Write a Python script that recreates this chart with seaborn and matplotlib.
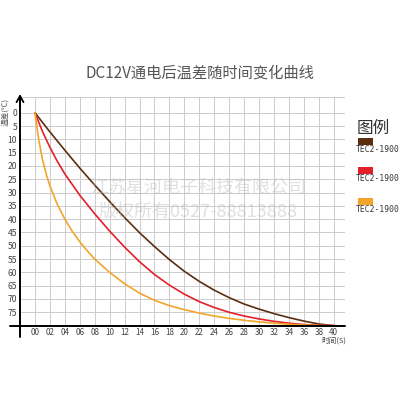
import matplotlib
matplotlib.use("Agg")
import matplotlib.pyplot as plt
import seaborn as sns
import pandas as pd

# ---- data ----
series_names = ["TEC2-1900 A", "TEC2-1900 B", "TEC2-1900 C"]
legend_labels = ["TEC2-1900", "TEC2-1900", "TEC2-1900"]
colors = ["#5c2e10", "#e3202a", "#f2a52a"]

brown_t = [0, 2, 4, 6, 8, 10, 12, 14, 16, 18, 20, 22, 24, 26, 28, 30, 32, 34, 36, 38, 40]
brown_v = [0, 7.2, 14.1, 20.8, 27.2, 33.4, 39.4, 45.1, 50.3, 55.2, 59.6, 63.4, 66.7, 69.5, 71.9, 73.8, 75.5, 77.0, 78.3, 79.4, 80]

red_t = [0, 1, 2, 3, 4, 6, 8, 10, 12, 14, 16, 18, 20, 22, 24, 26, 28, 30, 32, 34, 36, 38, 40]
red_v = [0, 7, 13, 18.3, 23, 31, 38, 44.5, 50.5, 56, 60.8, 64.8, 68.2, 71, 73.2, 75, 76.4, 77.5, 78.4, 79.1, 79.6, 79.9, 80]

yel_t = [0, 0.5, 1, 1.5, 2, 3, 4, 5, 6, 7, 8, 10, 12, 14, 16, 18, 20, 22, 24, 26, 28, 30, 32, 34, 36, 38, 40]
yel_v = [0, 10, 17.5, 23, 27.5, 34.5, 40, 44.6, 48.5, 51.9, 55, 60, 64.3, 67.8, 70.5, 72.5, 74, 75.3, 76.4, 77.3, 78, 78.6, 79.1, 79.5, 79.8, 80, 80]

x_ticks = list(range(0, 41, 2))
x_ticklabels = ["%02d" % t for t in x_ticks]
y_ticks = list(range(0, 80, 5))
y_ticklabels = [str(t) for t in y_ticks]

title = "DC12V通电后温差随时间变化曲线"
xlabel = "时间(S)"
ylabel = "温差(℃)"
legend_title = "图例"
watermark1 = "江苏星河电子科技有限公司"
watermark2 = "版权所有0527-88813888"

# ---- build table ----
df = pd.concat([
    pd.DataFrame({"t": brown_t, "v": brown_v, "s": series_names[0]}),
    pd.DataFrame({"t": red_t, "v": red_v, "s": series_names[1]}),
    pd.DataFrame({"t": yel_t, "v": yel_v, "s": series_names[2]}),
])

sns.set_style("white")
plt.rcParams["font.family"] = ["Noto Sans CJK SC", "DejaVu Sans"]

fig = plt.figure(figsize=(4, 4), dpi=100)
ax = fig.add_axes([0.05, 0.186, 0.8125, 0.5715])

sns.lineplot(data=df, x="t", y="v", hue="s", palette=colors, linewidth=1.2,
             legend=False, ax=ax, sort=True, estimator=None, zorder=3)

ax.set_xlim(-2, 41.5)
ax.set_ylim(80, -5.9)
ax.set_xticks(x_ticks)
ax.set_xticklabels(x_ticklabels, fontsize=5.8, color="#444444")
ax.set_yticks(y_ticks)
ax.set_yticklabels(y_ticklabels, fontsize=6.2, color="#444444")
ax.tick_params(length=0, pad=2)
ax.set_xlabel("")
ax.set_ylabel("")

# grid
for t in x_ticks:
    ax.axvline(t, color="#cccccc", lw=0.7, zorder=1)
for v in y_ticks:
    ax.axhline(v, color="#cccccc", lw=0.7, zorder=1)
ax.axhline(-5.9, color="#cccccc", lw=0.7, zorder=1)

for s in ["top", "right", "left", "bottom"]:
    ax.spines[s].set_visible(False)

# axis lines extending beyond
ax.plot([-0.03, 1.0], [0, 0], transform=ax.transAxes, color="black", lw=1.4, clip_on=False, zorder=4)
ax.plot([0, 0], [-0.05, 1.0], transform=ax.transAxes, color="black", lw=1.4, clip_on=False, zorder=4)
ax.annotate("", xy=(0, 1.025), xytext=(0, 0.95), xycoords="axes fraction",
            arrowprops=dict(arrowstyle="->,head_width=0.25,head_length=0.45", color="black", lw=1.3))

fig.text(0.835, 0.148, xlabel, fontsize=5.5, color="#444444", ha="center", va="center")
fig.text(0.012, 0.72, ylabel, fontsize=5.5, color="#555555", rotation=90, ha="center", va="center")

fig.text(0.5, 0.817, title, fontsize=11, color="#555555", ha="center", va="center")

# legend
fig.text(0.892, 0.68, legend_title, fontsize=12, color="#333333", ha="left", va="center")
patch_y = [0.638, 0.565, 0.488]
for c, lab, py in zip(colors, legend_labels, patch_y):
    fig.patches.append(plt.Rectangle((0.895, py), 0.037, 0.017, transform=fig.transFigure,
                                     facecolor=c, edgecolor="none"))
    fig.text(0.890, py - 0.012, lab, fontsize=5.8, color="#333333", ha="left", va="center",
             family="DejaVu Sans Mono")

# watermark
fig.text(0.495, 0.53, watermark1, fontsize=13, color="#bbbbbb", alpha=0.45, ha="center", va="center", zorder=5)
fig.text(0.495, 0.47, watermark2, fontsize=13, color="#bbbbbb", alpha=0.45, ha="center", va="center", zorder=5)

fig.savefig("out.png", dpi=100, facecolor="white")
